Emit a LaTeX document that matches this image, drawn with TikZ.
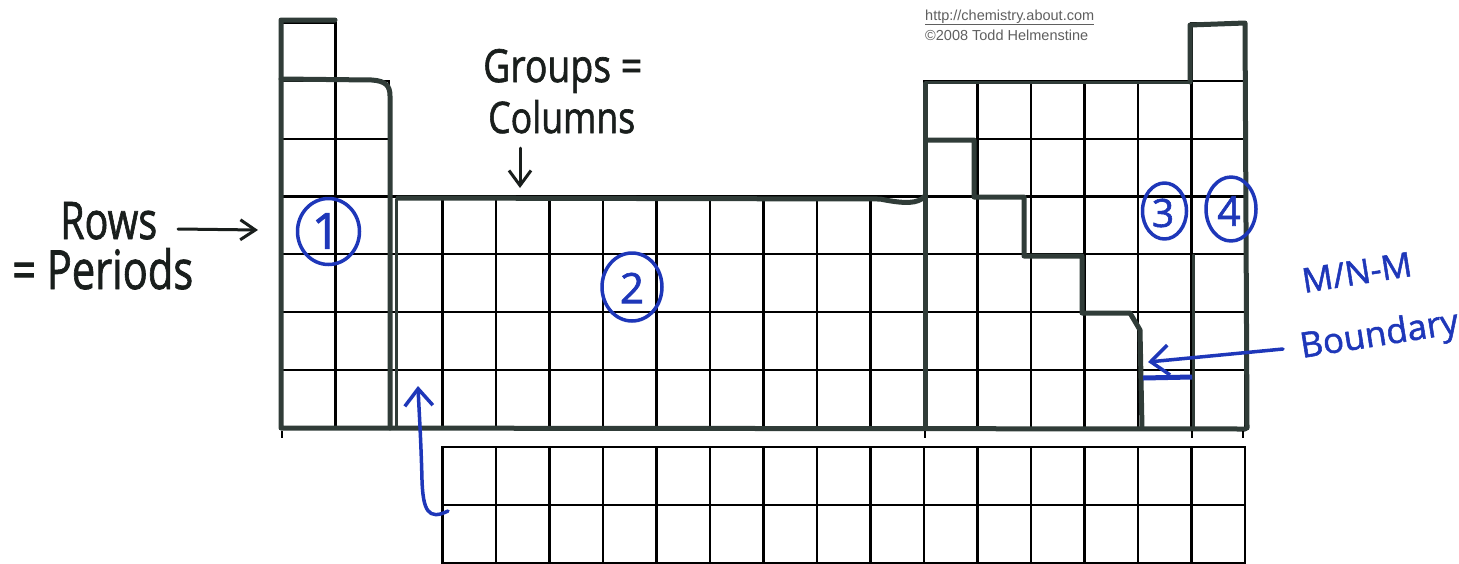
\documentclass[tikz,border=0pt]{standalone}
\usepackage{fontspec}
\usetikzlibrary{arrows.meta}
\newfontfamily\hand[FakeBold=1.5]{Open Sans}
\newfontfamily\printfont{Liberation Sans}
\definecolor{pen}{RGB}{30,55,185}
\definecolor{marker}{RGB}{48,60,56}
\definecolor{inkblack}{RGB}{25,30,28}
\definecolor{printgray}{RGB}{95,95,95}
\tikzset{
  gridline/.style={draw=black, line width=2.2pt},
  markerline/.style={draw=marker, line width=5pt, line cap=round, line join=round},
  thinmarker/.style={draw=marker, line width=3pt, line cap=round, line join=round},
  bluepen/.style={draw=pen, line width=3.5pt, line cap=round, line join=round},
  blackpen/.style={draw=inkblack, line width=3pt, line cap=round, line join=round},
  handtext/.style={inner sep=0pt, anchor=base west, text=inkblack},
  bluetext/.style={inner sep=0pt, anchor=base west, text=pen},
  bluenum/.style={inner sep=0pt, text=pen},
  printtext/.style={inner sep=0pt, anchor=base west, text=printgray, font=\printfont\fontsize{14.5}{16}\selectfont}
}
\begin{document}
\begin{tikzpicture}[x=1pt,y=-1pt]
\useasboundingbox (0,0) rectangle (1459,563);
\fill[white] (0,0) rectangle (1459,563);

% main table cells
\foreach \c/\rs in {0/0,1/1,2/3,3/3,4/3,5/3,6/3,7/3,8/3,9/3,10/3,11/3,12/1,13/1,14/1,15/1,16/1,17/0}{
  \foreach \r in {\rs,...,6}{
    \draw[gridline] ({282+53.5*\c},{23+57.8*\r}) rectangle +(53.5,57.8);
  }
}
% f-block cells
\foreach \c in {3,...,17}{
  \foreach \r in {0,1}{
    \draw[gridline] ({282+53.5*\c},{447+57.8*\r}) rectangle +(53.5,57.8);
  }
}

% marker outlines
\draw[markerline] (335,20) -- (281,20) -- (281,428) -- (1245,429);
\draw[markerline] (281,79) -- (372,80) .. controls (386,81) and (390,86) .. (390,96) -- (390,428);
\draw[thinmarker] (396,199) -- (396,426);
\draw[markerline] (398,198) -- (880,199) .. controls (905,204) and (918,204) .. (925,196);
\draw[markerline] (925,84) -- (925,428);
\draw[thinmarker] (925,82) -- (1190,82);
\draw[markerline] (1190,82) -- (1190,25) -- (1245,23) -- (1247,428);
\draw[markerline] (927,140) -- (974,140) -- (974,197) -- (1024,197) -- (1024,256) -- (1082,256) -- (1082,313) -- (1130,313) -- (1140,330) -- (1142,428);
\draw[thinmarker] (1193,255) -- (1193,428);
% small ticks under the table
\foreach \t in {282,925,1192,1243}{ \draw[black, line width=1.5pt] (\t,431) -- (\t,438); }

% printed header text
\node[printtext] (url) at (925,20) {\underline{http://chemistry.about.com}};
\node[printtext] (copy) at (925,40) {©2008 Todd Helmenstine};

% black handwritten labels
\node[handtext] (groups) at (483,82) {\resizebox{159pt}{33pt}{\hand Groups =}};
\node[handtext] (columns) at (488,133) {\resizebox{147pt}{33pt}{\hand Columns}};
\node[handtext] (rows) at (60,239) {\resizebox{97pt}{37pt}{\hand Rows}};
\node[handtext] (periods) at (12,289) {\resizebox{181pt}{41pt}{\hand = Periods}};
\coordinate (colStart) at (520,148);
\coordinate (colTip) at (520,188);
\coordinate (rowStart) at (178,229);
\coordinate (rowTip) at (258,230);
\draw[blackpen, -{Straight Barb[length=15pt,width=22pt,line width=3pt]}] (colStart) -- (colTip);
\draw[blackpen, -{Straight Barb[length=15pt,width=20pt,line width=3pt]}] (rowStart) -- (rowTip);

% blue circled numbers
\node[bluenum, font=\hand\fontsize{50}{50}\selectfont] (n1) at (326,231) {1};
\draw[bluepen] (328.5,231.5) ellipse [x radius=31, y radius=33];
\node[bluenum, font=\hand\fontsize{42}{42}\selectfont] (n2) at (632,288) {2};
\draw[bluepen] (632,287) ellipse [x radius=30, y radius=34];
\node[bluenum, font=\hand\fontsize{39}{39}\selectfont] (n3) at (1163,213) {3};
\draw[bluepen] (1164.5,211) ellipse [x radius=22, y radius=28];
\node[bluenum, font=\hand\fontsize{41}{41}\selectfont] (n4) at (1229,211) {4};
\draw[bluepen] (1231,209) ellipse [x radius=25, y radius=32];

% blue boundary annotation
\node[bluetext, rotate=9, font=\hand\fontsize{34}{34}\selectfont] (mnm) at (1304,293) {M/N-M};
\node[bluetext, rotate=9, font=\hand\fontsize{35}{35}\selectfont] (boundary) at (1302,358) {Boundary};
\coordinate (bStart) at (1283,349);
\coordinate (bTip) at (1148,362);
\draw[bluepen, -{Straight Barb[length=18pt,width=30pt,line width=3.5pt]}] (bStart) -- (bTip);
\draw[draw=pen, line width=5pt] (1143,378) -- (1192,377);

% blue curved arrow from f-block to main table
\coordinate (fStart) at (448,511);
\coordinate (fTip) at (418,386);
\draw[bluepen, -{Straight Barb[length=17pt,width=28pt,line width=3.5pt]}] (fStart) .. controls (428,521) and (423,510) .. (422,480) .. controls (421,440) and (419,410) .. (fTip);
\end{tikzpicture}
\end{document}
